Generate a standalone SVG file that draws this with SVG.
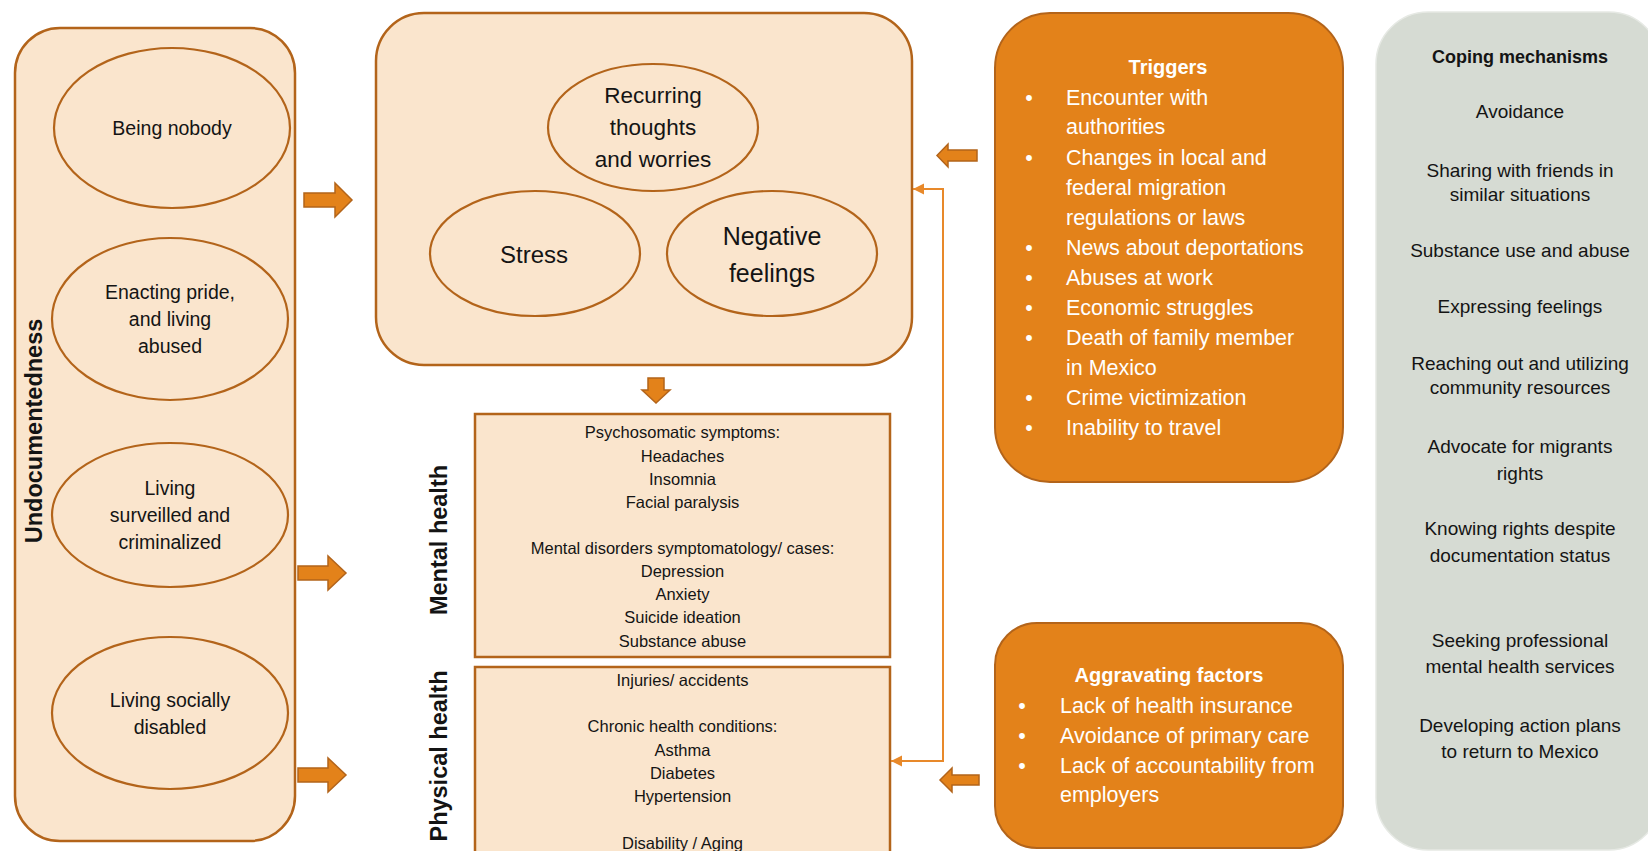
<svg xmlns="http://www.w3.org/2000/svg" width="1648" height="851" viewBox="0 0 1648 851">
<defs>
<marker id="ah" markerUnits="userSpaceOnUse" markerWidth="12" markerHeight="12" refX="11" refY="6" orient="auto-start-reverse"><path d="M0,0.5 L11,6 L0,11.5 z" fill="#E8892A"/></marker>
</defs>
<style>
text{font-family:"Liberation Sans",Arial,sans-serif}
.lb{fill:#FAE5CD;stroke:#B3641A;stroke-width:2.5}
.el{fill:#FAE5CD;stroke:#B3641A;stroke-width:2.2}
.ob{fill:#E3821A;stroke:#B3641A;stroke-width:2}
.ba{fill:#E3821A;stroke:#B3641A;stroke-width:1.5}
.cn{fill:none;stroke:#E8892A;stroke-width:2}
.t{fill:#141414;text-anchor:middle}
.e{font-size:19.5px}
.m{font-size:16.5px}
.v{font-size:23.5px;font-weight:bold;fill:#141414;text-anchor:middle}
.w{fill:#FFFFFF;font-size:21.5px}
.wh{fill:#FFFFFF;font-size:20px;font-weight:bold;text-anchor:middle}
.bu{text-anchor:middle}
.c{font-size:19px}
</style>
<rect x="0" y="0" width="1648" height="851" fill="#FFFFFF"/>

<g id="undocumentedness">
<rect class="lb" x="15" y="28" width="280" height="813" rx="45"/>
<text class="v" transform="translate(42,431) rotate(-90)">Undocumentedness</text>
<g id="being-nobody">
<ellipse class="el" cx="172" cy="128" rx="118" ry="80"/>
<text class="t e" x="172" y="135">Being nobody</text>
</g>
<g id="enacting-pride">
<ellipse class="el" cx="170" cy="319" rx="118" ry="81"/>
<text class="t e" x="170" y="299">Enacting pride,</text>
<text class="t e" x="170" y="326">and living</text>
<text class="t e" x="170" y="353">abused</text>
</g>
<g id="living-surveilled">
<ellipse class="el" cx="170" cy="515" rx="118" ry="72"/>
<text class="t e" x="170" y="495">Living</text>
<text class="t e" x="170" y="522">surveilled and</text>
<text class="t e" x="170" y="549">criminalized</text>
</g>
<g id="living-disabled">
<ellipse class="el" cx="170" cy="713" rx="118" ry="76"/>
<text class="t e" x="170" y="707">Living socially</text>
<text class="t e" x="170" y="734">disabled</text>
</g>
</g>

<g id="stress-response">
<rect class="lb" x="376" y="13" width="536" height="352" rx="48"/>
<g id="recurring-thoughts">
<ellipse class="el" cx="653" cy="127.5" rx="105" ry="63.5"/>
<text class="t" style="font-size:22.5px" x="653" y="103">Recurring</text>
<text class="t" style="font-size:22.5px" x="653" y="135">thoughts</text>
<text class="t" style="font-size:22.5px" x="653" y="167">and worries</text>
</g>
<g id="stress">
<ellipse class="el" cx="535" cy="253.5" rx="105" ry="62.5"/>
<text class="t" style="font-size:24px" x="534" y="263">Stress</text>
</g>
<g id="negative-feelings">
<ellipse class="el" cx="772" cy="253.5" rx="105" ry="62.5"/>
<text class="t" style="font-size:25px" x="772" y="245">Negative</text>
<text class="t" style="font-size:25px" x="772" y="282">feelings</text>
</g>
</g>

<g id="mental-health">
<rect class="lb" x="475" y="414" width="415" height="243"/>
<text class="v" transform="translate(447,540) rotate(-90)">Mental health</text>
<text class="t m" x="682.5" y="438">Psychosomatic symptoms:</text>
<text class="t m" x="682.5" y="462">Headaches</text>
<text class="t m" x="682.5" y="485">Insomnia</text>
<text class="t m" x="682.5" y="508">Facial paralysis</text>
<text class="t m" x="682.5" y="554">Mental disorders symptomatology/ cases:</text>
<text class="t m" x="682.5" y="577">Depression</text>
<text class="t m" x="682.5" y="600">Anxiety</text>
<text class="t m" x="682.5" y="623">Suicide ideation</text>
<text class="t m" x="682.5" y="647">Substance abuse</text>
</g>

<g id="physical-health">
<rect class="lb" x="475" y="667" width="415" height="200"/>
<text class="v" transform="translate(447,756) rotate(-90)">Physical health</text>
<text class="t m" x="682.5" y="686">Injuries/ accidents</text>
<text class="t m" x="682.5" y="732">Chronic health conditions:</text>
<text class="t m" x="682.5" y="756">Asthma</text>
<text class="t m" x="682.5" y="779">Diabetes</text>
<text class="t m" x="682.5" y="802">Hypertension</text>
<text class="t m" x="682.5" y="849">Disability / Aging</text>
</g>

<g id="triggers">
<rect class="ob" x="995" y="13" width="348" height="469" rx="55"/>
<text class="wh" x="1168" y="74">Triggers</text>
<g class="w">
<text class="bu" x="1029" y="105">•</text><text x="1066" y="105">Encounter with</text>
<text x="1066" y="134">authorities</text>
<text class="bu" x="1029" y="165">•</text><text x="1066" y="165">Changes in local and</text>
<text x="1066" y="195">federal migration</text>
<text x="1066" y="225">regulations or laws</text>
<text class="bu" x="1029" y="255">•</text><text x="1066" y="255">News about deportations</text>
<text class="bu" x="1029" y="285">•</text><text x="1066" y="285">Abuses at work</text>
<text class="bu" x="1029" y="315">•</text><text x="1066" y="315">Economic struggles</text>
<text class="bu" x="1029" y="345">•</text><text x="1066" y="345">Death of family member</text>
<text x="1066" y="375">in Mexico</text>
<text class="bu" x="1029" y="405">•</text><text x="1066" y="405">Crime victimization</text>
<text class="bu" x="1029" y="435">•</text><text x="1066" y="435">Inability to travel</text>
</g>
</g>

<g id="aggravating-factors">
<rect class="ob" x="995" y="623" width="348" height="225" rx="42"/>
<text class="wh" x="1169" y="682">Aggravating factors</text>
<g class="w">
<text class="bu" x="1022" y="713">•</text><text x="1060" y="713">Lack of health insurance</text>
<text class="bu" x="1022" y="743">•</text><text x="1060" y="743">Avoidance of primary care</text>
<text class="bu" x="1022" y="773">•</text><text x="1060" y="773">Lack of accountability from</text>
<text x="1060" y="802">employers</text>
</g>
</g>

<g id="coping-mechanisms">
<rect x="1376" y="12" width="285" height="838" rx="52" fill="#D6DBD3" stroke="#E6E9E4" stroke-width="1.5"/>
<text class="t" style="font-size:18px;font-weight:bold" x="1520" y="63">Coping mechanisms</text>
<g class="t c">
<text x="1520" y="118">Avoidance</text>
<text x="1520" y="177">Sharing with friends in</text>
<text x="1520" y="201">similar situations</text>
<text x="1520" y="257">Substance use and abuse</text>
<text x="1520" y="313">Expressing feelings</text>
<text x="1520" y="370">Reaching out and utilizing</text>
<text x="1520" y="394">community resources</text>
<text x="1520" y="453">Advocate for migrants</text>
<text x="1520" y="480">rights</text>
<text x="1520" y="535">Knowing rights despite</text>
<text x="1520" y="562">documentation status</text>
<text x="1520" y="647">Seeking professional</text>
<text x="1520" y="673">mental health services</text>
<text x="1520" y="732">Developing action plans</text>
<text x="1520" y="758">to return to Mexico</text>
</g>
</g>

<g id="connectors">
<polygon class="ba" points="304,193 335,193 335,183 352,200 335,217 335,207 304,207"/>
<polygon class="ba" points="298,566 328,566 328,556 346,573 328,590 328,580 298,580"/>
<polygon class="ba" points="298,768 328,768 328,758 346,775 328,792 328,782 298,782"/>
<polygon class="ba" points="648,378 664,378 664,390 670,390 656,403 642,390 648,390"/>
<polygon class="ba" points="977,150 948,150 948,144 937,155.5 948,167 948,161 977,161"/>
<polygon class="ba" points="979,775 952,775 952,768 940,780 952,792 952,785 979,785"/>
<path class="cn" d="M891,761 H943 V189 H913" marker-start="url(#ah)" marker-end="url(#ah)"/>
</g>
</svg>
